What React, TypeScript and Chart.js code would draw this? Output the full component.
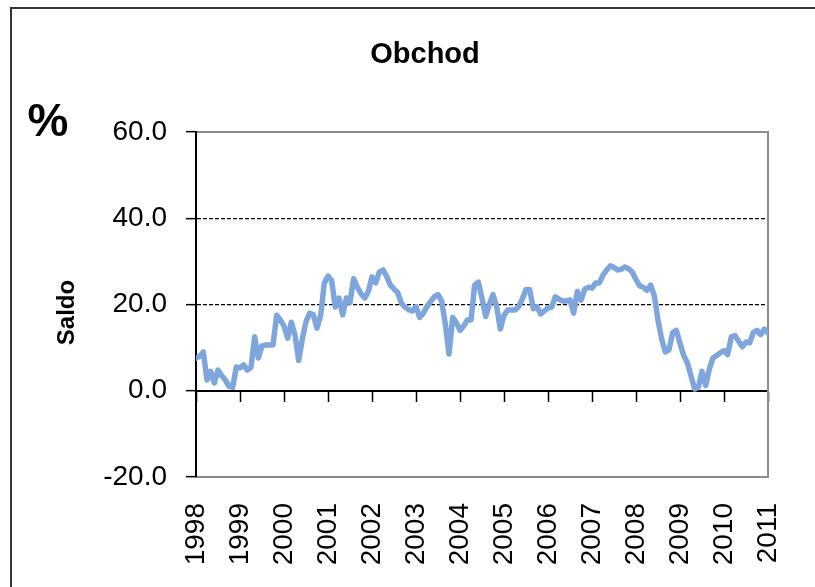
import React, { useEffect, useRef } from "react";
import { Chart, registerables } from "chart.js";

Chart.register(...registerables);

const chartTitle = "Obchod";
const unitLabel = "%";
const axisTitle = "Saldo";
const yearLabels = [
  "1998", "1999", "2000", "2001", "2002", "2003", "2004",
  "2005", "2006", "2007", "2008", "2009", "2010", "2011",
];
const yTicks = [-20, 0, 20, 40, 60];
const dashedLevels = [20, 40];

// Monthly values, Jan 1998 .. Jan 2011
const saldo1998_2001 = [
  7.5, 8, 9, 2.5, 4.5, 1.8, 4.8, 3.5, 2.5, 1, 0.8, 5.5,
  5.3, 6, 4.8, 5.4, 12.5, 7.6, 10.4, 10.6, 10.6, 10.6, 17.5, 16.4,
  15, 12.2, 15.9, 13, 7, 12, 16, 18, 17.6, 14.5, 17.5, 25,
];
const saldo2001_2004 = [
  26.6, 25.5, 19.4, 21.5, 17.6, 21.5, 20.5, 26, 24, 22.5, 21.5, 23,
  26.4, 25, 27.5, 28, 26.5, 24.5, 23.6, 22.8, 20.3, 19.4, 18.8, 18.5,
  19.5, 17, 18, 19.5, 20.7, 21.8, 22.3, 20.8, 15.5, 8.5, 17, 15.8,
];
const saldo2004_2007 = [
  14, 15, 16.4, 16.4, 24.5, 25.2, 21.5, 17.2, 20, 22.3, 19.5, 14.3,
  17.5, 18.7, 18.7, 18.7, 19.5, 21.3, 23.5, 23.5, 19, 19.5, 17.8, 18.5,
  19.2, 19.4, 21.8, 21.2, 20.8, 20.8, 21.1, 18, 23, 21, 23.5, 24,
];
const saldo2007_2011 = [
  23.8, 25, 25, 26.8, 28, 29, 28.6, 28, 28.2, 28.7, 28.3, 27.5,
  25.8, 24.3, 24, 23.3, 24.5, 22, 16.4, 12, 9, 9.5, 13.5, 14,
  11, 8.2, 6.5, 3.5, 0.4, 0.8, 4.5, 1.2, 5, 7.6, 8.2, 8.8,
  9.3, 8.4, 12.5, 12.8, 11.5, 10.2, 11.3, 11.1, 13.5, 14, 13, 14.3,
  13.4,
];
const saldo = [
  ...saldo1998_2001,
  ...saldo2001_2004,
  ...saldo2004_2007,
  ...saldo2007_2011,
];

const FONT = "'Liberation Sans', Arial, sans-serif";

export default function App() {
  const ref = useRef<HTMLCanvasElement | null>(null);

  useEffect(() => {
    if (!ref.current) return;
    const lastIndex = saldo.length - 1;

    const framePlugin = {
      id: "frame",
      beforeDatasetsDraw(chart: any) {
        const { ctx, chartArea } = chart;
        ctx.save();
        ctx.strokeStyle = "#8c8c8c";
        ctx.lineWidth = 2;
        ctx.beginPath();
        ctx.moveTo(chartArea.left + 1, chartArea.top);
        ctx.lineTo(chartArea.right + 1, chartArea.top);
        ctx.stroke();
        ctx.restore();
      },
      afterDraw(chart: any) {
        const { ctx, chartArea } = chart;
        ctx.save();
        ctx.fillStyle = "#000";
        ctx.textAlign = "center";
        ctx.textBaseline = "middle";
        ctx.font = `bold 46px ${FONT}`;
        ctx.fillText(unitLabel, chartArea.left - 148, chartArea.top - 9);
        ctx.translate(chartArea.left - 129, (chartArea.top + chartArea.bottom) / 2 + 8);
        ctx.rotate(-Math.PI / 2);
        ctx.font = `bold 24px ${FONT}`;
        ctx.fillText(axisTitle, 0, 0);
        ctx.restore();
      },
    };

    const chart = new Chart(ref.current, {
      type: "line",
      data: {
        datasets: [
          {
            data: saldo.map((v, i) => ({ x: i, y: v })),
            borderColor: "#7ea6dc",
            borderWidth: 5.5,
            pointRadius: 0,
            tension: 0,
            borderJoinStyle: "round",
            borderCapStyle: "round",
            fill: false,
          },
        ],
      },
      options: {
        animation: false,
        responsive: false,
        layout: { padding: 0 },
        plugins: {
          legend: { display: false },
          tooltip: { enabled: false },
          title: {
            display: true,
            text: chartTitle,
            color: "#000",
            font: { family: FONT, size: 29, weight: "bold" },
            padding: { top: 28.6, bottom: 59.6 },
          },
        },
        scales: {
          x: {
            type: "linear",
            position: "bottom",
            min: 0,
            max: lastIndex,
            afterFit: (s: any) => {
              s.height = 130;
            },
            grid: { display: false, drawTicks: false, tickLength: 0 },
            border: { display: true, color: "#8c8c8c", width: 2 },
            ticks: {
              stepSize: 12,
              autoSkip: false,
              maxRotation: 90,
              minRotation: 90,
              padding: 26,
              color: "#000",
              font: { family: FONT, size: 28 },
              callback: (v: any) => {
                const k = Math.round(Number(v) / 12);
                return yearLabels[k] ?? "";
              },
            },
          },
          x0: {
            type: "linear",
            position: { y: 0 } as any,
            min: 0,
            max: lastIndex,
            grid: {
              drawOnChartArea: false,
              drawTicks: true,
              tickLength: 10,
              tickColor: "#000",
              tickWidth: 1.5,
            },
            border: { display: true, color: "#000", width: 2 },
            ticks: { display: false, stepSize: 12, autoSkip: false },
          },
          y: {
            type: "linear",
            position: "left",
            min: yTicks[0],
            max: yTicks[yTicks.length - 1],
            afterFit: (s: any) => {
              s.width = 184;
            },
            afterBuildTicks: (s: any) => {
              s.ticks = yTicks.map((v) => ({ value: v }));
            },
            grid: {
              color: (c: any) =>
                c.tick && dashedLevels.includes(c.tick.value) ? "#000" : "rgba(0,0,0,0)",
              lineWidth: 1.3,
              drawTicks: true,
              tickLength: 10,
              tickColor: "#000",
              tickWidth: 1.5,
            },
            border: { display: true, color: "#000", width: 2, dash: [4, 2] },
            ticks: {
              padding: 19,
              color: "#000",
              font: { family: FONT, size: 28 },
              callback: (v: any) => Number(v).toFixed(1),
            },
          },
          yRight: {
            type: "linear",
            position: "right",
            min: yTicks[0],
            max: yTicks[yTicks.length - 1],
            afterFit: (s: any) => {
              s.width = 70;
            },
            grid: { display: false, drawTicks: false },
            border: { display: true, color: "#8c8c8c", width: 2 },
            ticks: { display: false },
          },
        },
      } as any,
      plugins: [framePlugin],
    });

    return () => chart.destroy();
  }, []);

  return (
    <div
      style={{
        position: "fixed",
        left: 10,
        top: 7,
        width: 826,
        height: 598,
        borderTop: "2px solid #333",
        borderLeft: "2px solid #333",
        background: "#fff",
      }}
    >
      <canvas ref={ref} width={826} height={598} style={{ display: "block" }} />
    </div>
  );
}
